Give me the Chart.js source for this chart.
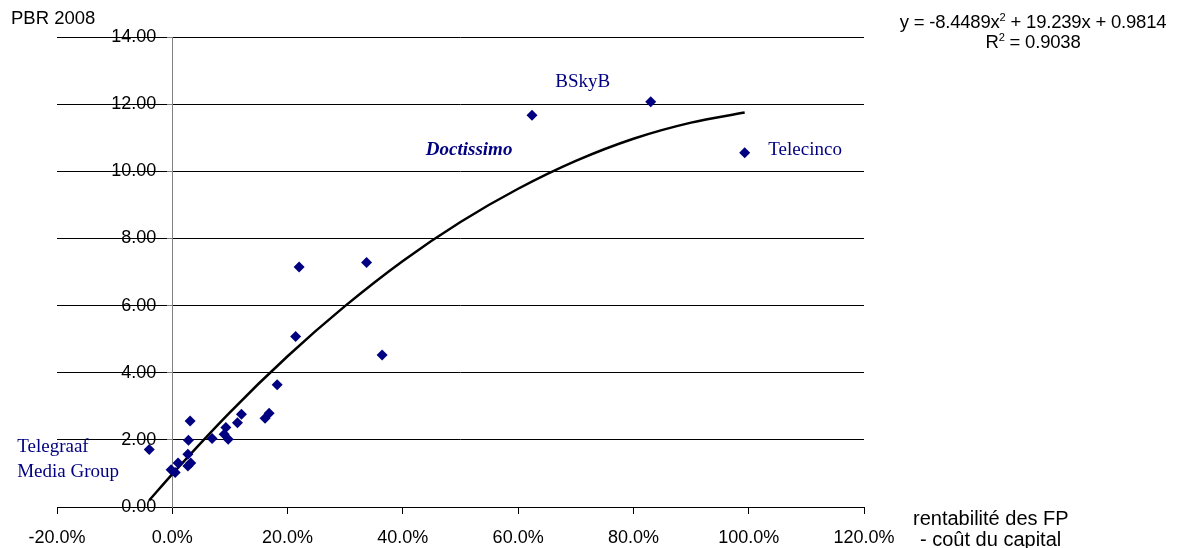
<!DOCTYPE html>
<html>
<head>
<meta charset="utf-8">
<script src="https://cdn.jsdelivr.net/npm/chart.js@4.4.1/dist/chart.umd.min.js"></script>
<style>
  body { margin: 0; background: #fff; }
  #wrap { position: relative; width: 1177px; height: 548px; }
  .txt { position: absolute; font-family: 'Liberation Sans', Arial, sans-serif; color: #000; white-space: nowrap; }
  sup { font-size: 60%; vertical-align: 0.6em; line-height: 0; }
</style>
</head>
<body>
<div id="wrap">
  <canvas id="chart" width="1177" height="548"></canvas>
  <div class="txt" style="left:11px; top:7px; font-size:18.5px;">PBR 2008</div>
  <div class="txt" style="left:883px; top:12px; width:300px; text-align:center; font-size:18.5px; line-height:20px; letter-spacing:-0.2px;">
    y = -8.4489x<sup>2</sup> + 19.239x + 0.9814<br>R<sup>2</sup> = 0.9038
  </div>
  <div class="txt" style="left:913px; top:508px; font-size:20px; line-height:21px;">rentabilité des FP</div>
  <div class="txt" style="left:920px; top:529px; font-size:20px; line-height:21px;">- coût du capital</div>
</div>
<script>
// rentabilité des FP - coût du capital (%) and PBR 2008
const rentaX = [-4.0, -0.2, 0.5, 1.0, 2.7, 2.7, 3.2, 2.8, 3.1, 6.9, 9.0, 9.3, 9.7, 11.3, 12.0, 16.1, 16.8, 18.2, 21.4, 22.0, 33.7, 36.4, 62.4, 83.0, 99.3];
const pbrY   = [1.71, 1.11, 1.03, 1.31, 1.57, 1.22, 1.31, 1.99, 2.56, 2.04, 2.17, 2.37, 2.02, 2.51, 2.76, 2.64, 2.79, 3.64, 5.08, 7.15, 7.28, 4.53, 11.67, 12.07, 10.55];

// polynomial trend line
const trendX = [-4, 0, 10, 20, 30, 40, 50, 60, 70, 80, 90, 99.3];
const trendY = [0.2, 0.98, 2.82, 4.49, 5.99, 7.33, 8.49, 9.48, 10.31, 10.97, 11.45, 11.75];

const xTicks = [-20, 0, 20, 40, 60, 80, 100, 120];
const yTicks = [0, 2, 4, 6, 8, 10, 12, 14];

// company names, anchored in data units
const names = [
  { text: 'BSkyB', x: 71.2, y: 12.66, align: 'center', font: '19px "Liberation Serif"' },
  { text: 'Telecinco', x: 103.4, y: 10.64, align: 'left', font: '19px "Liberation Serif"' },
  { text: 'Doctissimo', x: 59.0, y: 10.62, align: 'right', font: 'italic bold 19px "Liberation Serif"' },
  { text: 'Telegraaf', x: -26.9, y: 1.79, align: 'left', font: '19px "Liberation Serif"' },
  { text: 'Media Group', x: -26.9, y: 1.04, align: 'left', font: '19px "Liberation Serif"' }
];

const pts = rentaX.map((x, i) => ({ x: x, y: pbrY[i] }));
const trend = trendX.map((x, i) => ({ x: x, y: trendY[i] }));

// y labels sit left of the axis that crosses at x = 0
const yLabelPlugin = {
  id: 'yLabels',
  afterDraw(chart) {
    const ctx = chart.ctx;
    const sx = chart.scales.x, sy = chart.scales.y;
    const x0 = sx.getPixelForValue(0) - 16;
    ctx.save();
    ctx.font = '18px "Liberation Sans", Arial, sans-serif';
    ctx.fillStyle = '#000';
    ctx.textAlign = 'right';
    ctx.textBaseline = 'middle';
    yTicks.forEach(v => ctx.fillText(v.toFixed(2), x0, sy.getPixelForValue(v)));
    ctx.restore();
  }
};

const namePlugin = {
  id: 'names',
  afterDatasetsDraw(chart) {
    const ctx = chart.ctx;
    const sx = chart.scales.x, sy = chart.scales.y;
    ctx.save();
    ctx.fillStyle = '#000080';
    ctx.textBaseline = 'middle';
    names.forEach(n => {
      ctx.font = n.font;
      ctx.textAlign = n.align;
      ctx.fillText(n.text, sx.getPixelForValue(n.x), sy.getPixelForValue(n.y));
    });
    ctx.restore();
  }
};

Chart.defaults.font.family = '"Liberation Sans", Arial, sans-serif';
Chart.defaults.font.size = 18;
Chart.defaults.color = '#000';

new Chart(document.getElementById('chart'), {
  type: 'scatter',
  data: {
    datasets: [
      {
        label: 'PBR',
        data: pts,
        backgroundColor: '#000080',
        borderColor: '#000080',
        pointStyle: 'rectRot',
        pointRadius: 5.5,
        pointBorderWidth: 0
      },
      {
        label: 'trend',
        data: trend,
        showLine: true,
        borderColor: '#000',
        borderWidth: 2.5,
        pointRadius: 0,
        cubicInterpolationMode: 'monotone'
      }
    ]
  },
  options: {
    responsive: false,
    animation: false,
    layout: { padding: { left: 57, right: 313, top: 37, bottom: 41 } },
    plugins: { legend: { display: false }, tooltip: { enabled: false } },
    scales: {
      x: {
        type: 'linear',
        position: { y: 0 },
        min: -20, max: 120,
        afterBuildTicks: s => { s.ticks = xTicks.map(v => ({ value: v })); },
        ticks: { callback: v => v.toFixed(1) + '%', autoSkip: false, maxRotation: 0, padding: 14 },
        grid: { drawOnChartArea: false, tickLength: 6, tickColor: '#000' },
        border: { color: '#000' }
      },
      y: {
        position: { x: 0 },
        min: 0, max: 14,
        afterBuildTicks: s => { s.ticks = yTicks.map(v => ({ value: v })); },
        ticks: { display: false },
        grid: { color: '#000', tickLength: 5, tickColor: '#808080' },
        border: { color: '#808080' }
      }
    }
  },
  plugins: [namePlugin, yLabelPlugin]
});
</script>
</body>
</html>
